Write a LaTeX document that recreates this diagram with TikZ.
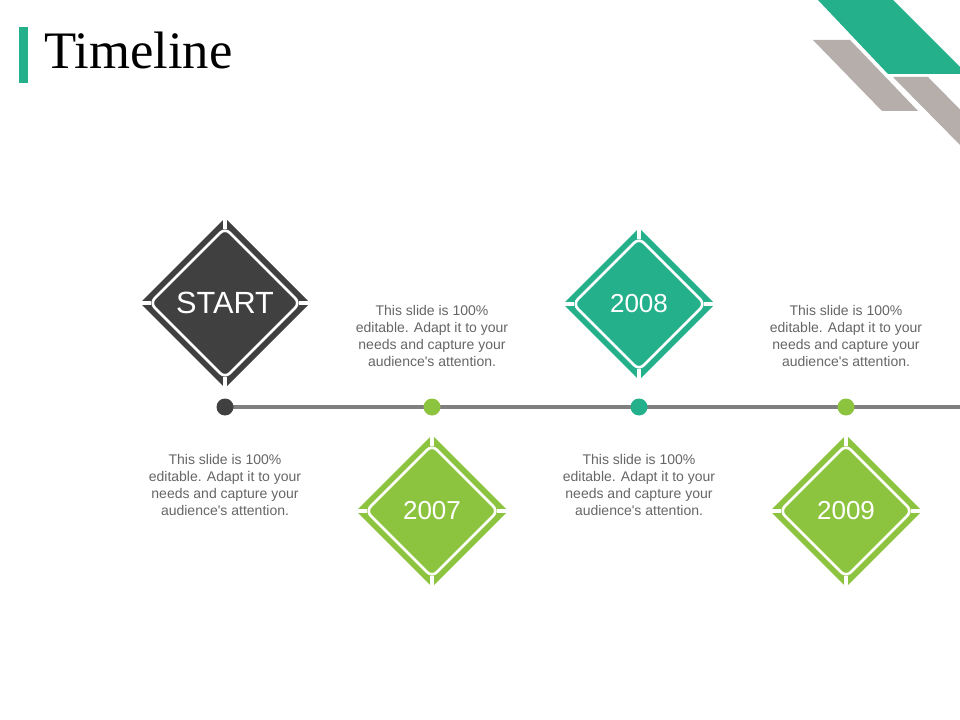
\documentclass[tikz,border=0pt]{standalone}
\usepackage{fontspec}
\setmainfont{Liberation Sans}
\newfontfamily\titlefont{Liberation Serif}
\usetikzlibrary{shapes.geometric}
\definecolor{teal1}{HTML}{23B08B}
\definecolor{green1}{HTML}{8CC43F}
\definecolor{dark1}{HTML}{404040}
\definecolor{line1}{HTML}{7F7F7F}
\definecolor{txt1}{HTML}{666666}
\definecolor{stone1}{HTML}{B5AEAA}
\tikzset{
  dshape/.style={diamond, aspect=1, inner sep=0pt, outer sep=0pt, rounded corners=2pt},
  innerd/.style={dshape, draw=white, line width=2pt, rounded corners=5pt},
  dotnode/.style={circle, inner sep=0pt, outer sep=0pt, minimum size=12.75pt},
  bodytext/.style={align=center, text=txt1, font=\fontsize{10.5}{12.6}\selectfont, inner sep=0pt},
  cut/.style={white, line width=2.4pt},
}
\newcommand\tldiamond[7]{%
  \node[dshape, fill=#5, minimum size={#4*0.75pt}] (#1) at (#2,#3) {};
  \node[innerd, minimum size={(#4-20)*0.75pt}] (#1in) at (#2,#3) {};
  \draw[cut] ([yshift=-1pt]#1in.north) -- ([yshift=2pt]#1.north);
  \draw[cut] ([yshift=1pt]#1in.south) -- ([yshift=-2pt]#1.south);
  \draw[cut] ([xshift=1pt]#1in.west) -- ([xshift=-2pt]#1.west);
  \draw[cut] ([xshift=-1pt]#1in.east) -- ([xshift=2pt]#1.east);
  \node[text=white, font=\fontsize{#7}{#7}\selectfont, inner sep=0pt] (#1txt) at (#2,#3) {#6};
}
\newcommand\tlbody{This slide is 100\%\\editable. Adapt it to your\\needs and capture your\\audience\textquotesingle s attention.}
\begin{document}
\begin{tikzpicture}[x=0.75pt,y=-0.75pt]
\fill[white] (0,0) rectangle (960,720);
\useasboundingbox (0,0) rectangle (960,720);
% corner decoration
\begin{scope}
\clip (0,0) rectangle (960,720);
\fill[teal1] (818,0) -- (893,0) -- (967,74) -- (888,74) -- cycle;
\fill[stone1] (813,40) -- (850,40) -- (918,111) -- (882,111) -- cycle;
\fill[stone1] (893,77) -- (928,77) -- (1000,150) -- (965,150) -- cycle;
\end{scope}
% title
\fill[teal1] (19,27) rectangle (28,83);
\node[anchor=base west, inner sep=0pt, font=\titlefont\fontsize{39.5}{39.5}\selectfont] (title) at (44,69) {Timeline};
% timeline
\coordinate (lstart) at (225,407);
\coordinate (lend) at (960,407);
\draw[line1, line width=3pt] (lstart) -- (lend);
\node[dotnode, fill=dark1] (p0) at (225,407) {};
\node[dotnode, fill=green1] (p1) at (432,407) {};
\node[dotnode, fill=teal1] (p2) at (639,407) {};
\node[dotnode, fill=green1] (p3) at (846,407) {};
% diamonds
\tldiamond{dstart}{225}{303}{170}{dark1}{START}{23}
\tldiamond{d2007}{432}{511}{152}{green1}{2007}{19.5}
\tldiamond{d2008}{639}{304}{152}{teal1}{2008}{19.5}
\tldiamond{d2009}{846}{511}{152}{green1}{2009}{19.5}
% texts
\node[bodytext] (t1) at (432,336) {\tlbody};
\node[bodytext] (t3) at (846,336) {\tlbody};
\node[bodytext] (t0) at (225,485) {\tlbody};
\node[bodytext] (t2) at (639,485) {\tlbody};
\end{tikzpicture}
\end{document}
